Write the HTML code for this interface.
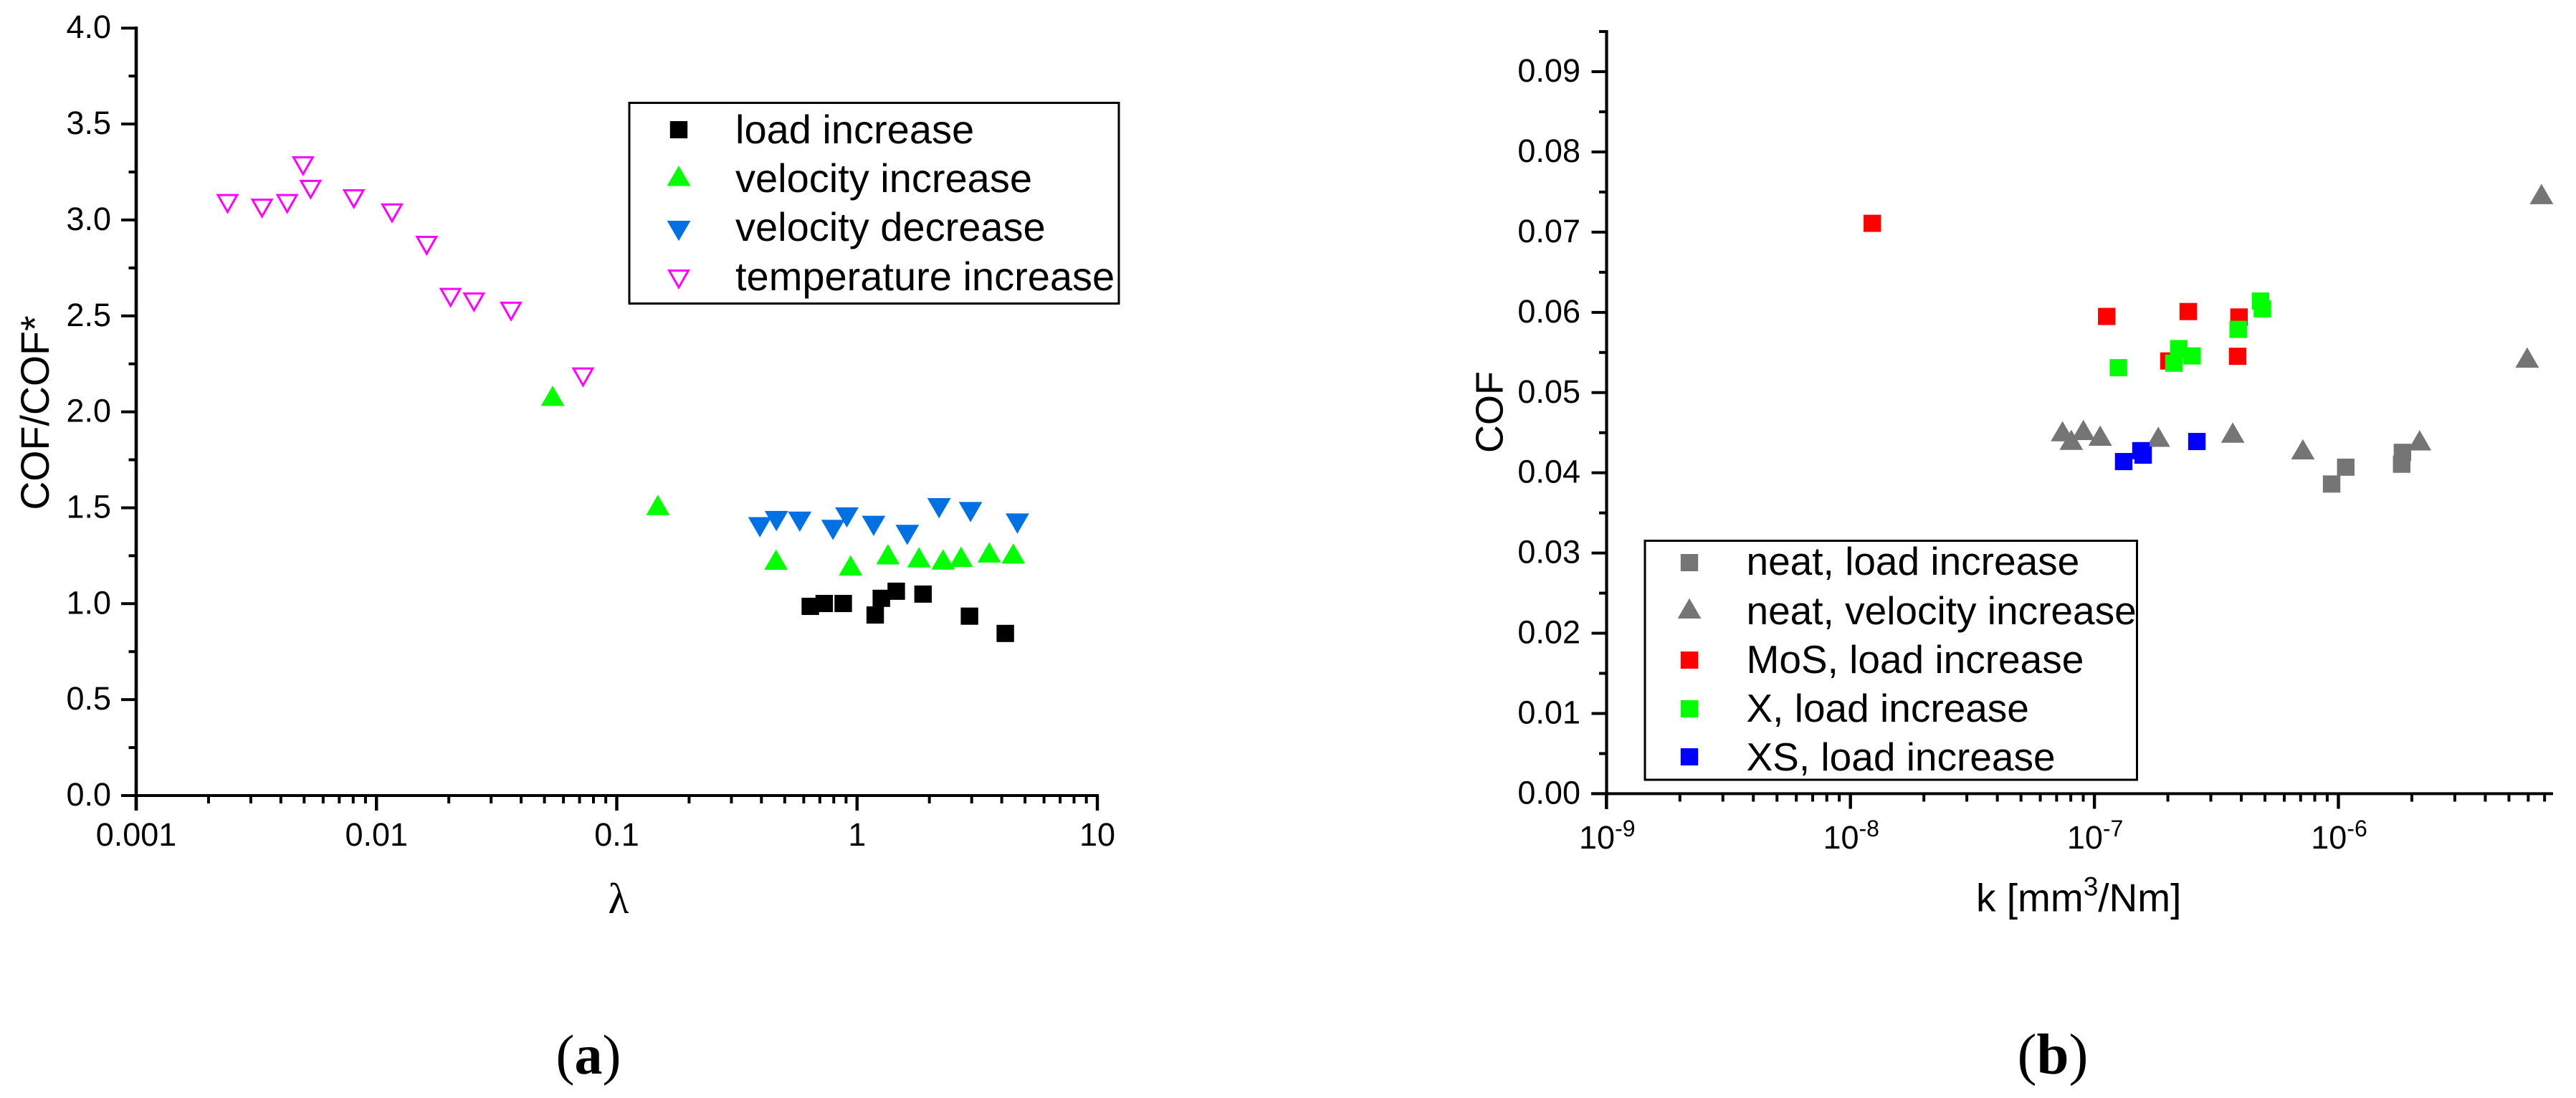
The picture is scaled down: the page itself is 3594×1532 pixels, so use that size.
<!DOCTYPE html>
<html lang="en">
<head>
<meta charset="utf-8">
<title>COF charts</title>
<style>
html,body{margin:0;padding:0;background:#fff;}
body{width:3594px;height:1532px;overflow:hidden;}
svg{display:block;}
text{font-family:"Liberation Sans",Arial,sans-serif;fill:#000;}
.serif{font-family:"Liberation Serif","Times New Roman",serif;}
</style>
</head>
<body>
<svg id="figure" xmlns="http://www.w3.org/2000/svg" width="3594" height="1532" viewBox="0 0 3594 1532">
<rect x="0" y="0" width="3594" height="1532" fill="#fff"/>
<g id="panelA"></g>
<g id="panelB"></g>
<text class="serif" x="821" y="1498" font-size="78" text-anchor="middle">(<tspan font-weight="bold">a</tspan>)</text>
<text class="serif" x="2864" y="1498" font-size="81" text-anchor="middle">(<tspan font-weight="bold">b</tspan>)</text>
</svg>
<script>
// ---------- Panel A data ----------
var aYTicks = ["0.0","0.5","1.0","1.5","2.0","2.5","3.0","3.5","4.0"];
var aXTicks = ["0.001","0.01","0.1","1","10"];
var aLoadX = [0.639,0.730,0.876,1.19,1.262,1.456,1.882,2.937,4.14];
var aLoadY = [0.986,1.001,1.001,0.941,1.028,1.065,1.050,0.935,0.845];
var aVelIncX = [0.0541,0.1483,0.460,0.94,1.344,1.81,2.28,2.71,3.55,4.47];
var aVelIncY = [2.083,1.514,1.229,1.199,1.257,1.241,1.230,1.244,1.267,1.261];
var aVelDecX = [0.394,0.4617,0.5775,0.794,0.907,1.172,1.618,2.194,2.967,4.647];
var aVelDecY = [1.399,1.431,1.428,1.385,1.450,1.406,1.359,1.498,1.478,1.418];
var aTempX = [0.0024,0.00334,0.00425,0.00495,0.00532,0.00805,0.01161,0.01618,0.02034,0.02546,0.03631,0.0724];
var aTempY = [3.083,3.059,3.083,3.28,3.157,3.108,3.034,2.865,2.594,2.570,2.522,2.179];

// ---------- Panel B data ----------
var bYTicks = ["0.00","0.01","0.02","0.03","0.04","0.05","0.06","0.07","0.08","0.09"];
var bXExponents = ["-9","-8","-7","-6"];
var bNeatLoadX = [9.38e-7,1.072e-6,1.83e-6,1.817e-6];
var bNeatLoadY = [0.0386,0.0407,0.04255,0.04107];
var bNeatVelX = [7.40e-8,8.04e-8,9.01e-8,1.056e-7,1.828e-7,3.69e-7,7.15e-7,2.152e-6,5.94e-6,6.80e-6];
var bNeatVelY = [0.04517,0.0441,0.04533,0.04462,0.04448,0.045,0.04292,0.04404,0.05436,0.07474];
var bMosX = [1.229e-8,1.123e-7,2.424e-7,3.915e-7,3.865e-7,2.02e-7];
var bMosY = [0.0711,0.05949,0.0601,0.05942,0.05452,0.05394];
var bXLoadX = [1.254e-7,2.118e-7,2.217e-7,2.513e-7,3.884e-7,4.794e-7,4.88e-7];
var bXLoadY = [0.0531,0.05366,0.05548,0.05457,0.05788,0.06141,0.06044];
var bXsX = [1.318e-7,1.551e-7,1.584e-7,2.63e-7];
var bXsY = [0.0414,0.04276,0.0422,0.0439];

var SVGNS = "http://www.w3.org/2000/svg";
function make(parent, tag, attrs, name) {
  var node = document.createElementNS(SVGNS, tag);
  for (var k in attrs) { node.setAttribute(k, attrs[k]); }
  
  
  parent.appendChild(node);
  return node;
}
function line(p, x1, y1, x2, y2, w, name) {
  return make(p, "line", {x1:x1, y1:y1, x2:x2, y2:y2, stroke:"#000", "stroke-width":w}, name);
}
function label(p, x, y, str, size, anchor, name) {
  var t = make(p, "text", {x:x, y:y, "font-size":size, "text-anchor":anchor}, name);
  t.textContent = str;
  return t;
}
function square(p, cx, cy, color, name) {
  return make(p, "rect", {x:cx-12.2, y:cy-12, width:24.4, height:24, fill:color}, name);
}
function triUp(p, cx, cy, color, name) {
  return make(p, "polygon", {points:(cx-16.4)+","+(cy+14)+" "+(cx+16.4)+","+(cy+14)+" "+cx+","+(cy-14.3), fill:color}, name);
}
function triDown(p, cx, cy, color, name) {
  return make(p, "polygon", {points:(cx-16.4)+","+(cy-14)+" "+(cx+16.4)+","+(cy-14)+" "+cx+","+(cy+14.3), fill:color}, name);
}
function triDownOpen(p, cx, cy, color, name) {
  return make(p, "polygon", {points:(cx-13.4)+","+(cy-12.5)+" "+(cx+13.4)+","+(cy-12.5)+" "+cx+","+(cy+11), fill:"#fff", "fill-opacity":"0", stroke:color, "stroke-width":3}, name);
}
function series(p, xs, ys, sx, sy, drawer, color, name) {
  for (var i = 0; i < xs.length; i++) {
    drawer(p, sx(xs[i]), sy(ys[i]), color, name);
  }
}

// ---------- Panel A ----------
(function () {
  var g = document.getElementById("panelA");
  function sx(v) { return 190 + 335.25 * (Math.log10(v) + 3); }
  function sy(v) { return 1110 - 267.7 * v; }
  // y axis
  line(g, 190, 37, 190, 1131, 4.6, "y-axis-line");
  for (var i = 0; i < aYTicks.length; i++) {
    var v = parseFloat(aYTicks[i]);
    line(g, 169, sy(v), 190, sy(v), 4, "y-tick");
    label(g, 155, sy(v) + 14, aYTicks[i], 45, "end", "y-tick-label");
    if (i < aYTicks.length - 1) {
      line(g, 179.5, sy(v + 0.25), 190, sy(v + 0.25), 4, "y-minor-tick");
    }
  }
  // x axis
  line(g, 188, 1110, 1533, 1110, 4, "x-axis-line");
  for (var d = 0; d < aXTicks.length; d++) {
    var base = parseFloat(aXTicks[d]);
    line(g, sx(base), 1110, sx(base), 1131, 4.4, "x-tick");
    label(g, sx(base), 1180, aXTicks[d], 45, "middle", "x-tick-label");
    if (d < aXTicks.length - 1) {
      for (var m = 2; m < 10; m++) {
        line(g, sx(base * m), 1110, sx(base * m), 1121, 4, "x-minor-tick");
      }
    }
  }
  // titles
  label(g, 0, 0, "COF/COF*", 55.5, "middle", "y-axis-title").setAttribute("transform", "translate(68 576) rotate(-90)");
  var lam = label(g, 863, 1274, "\u03bb", 60, "middle", "x-axis-title");
  lam.setAttribute("class", "serif");
  // series
  series(g, aLoadX, aLoadY, sx, sy, square, "#000000", "load-increase-point");
  series(g, aVelIncX, aVelIncY, sx, sy, triUp, "#00ff00", "velocity-increase-point");
  series(g, aVelDecX, aVelDecY, sx, sy, triDown, "#0070e2", "velocity-decrease-point");
  series(g, aTempX, aTempY, sx, sy, triDownOpen, "#ff00ff", "temperature-increase-point");
  // legend
  make(g, "rect", {x:878, y:143.5, width:683, height:280, fill:"#fff", "fill-opacity":"0", stroke:"#000", "stroke-width":3}, "legend-box");
  square(g, 947, 181, "#000000", "legend-marker-load");
  label(g, 1026, 200, "load increase", 56, "start", "legend-label-load");
  triUp(g, 947, 245.5, "#00ff00", "legend-marker-velocity-increase");
  label(g, 1026, 268, "velocity increase", 56, "start", "legend-label-velocity-increase");
  triDown(g, 947, 322, "#0070e2", "legend-marker-velocity-decrease");
  label(g, 1026, 336, "velocity decrease", 56, "start", "legend-label-velocity-decrease");
  triDownOpen(g, 947, 390, "#ff00ff", "legend-marker-temperature");
  label(g, 1026, 405, "temperature increase", 56, "start", "legend-label-temperature");
})();

// ---------- Panel B ----------
(function () {
  var g = document.getElementById("panelB");
  function sx(v) { return 2241.3 + 340.4 * (Math.log10(v) + 9); }
  function sy(v) { return 1107.4 - 11193 * v; }
  // y axis
  line(g, 2241.5, 42, 2241.5, 1129, 4.2, "y-axis-line");
  line(g, 2231, 44, 2241.5, 44, 4, "y-end-tick");
  for (var i = 0; i < bYTicks.length; i++) {
    var v = parseFloat(bYTicks[i]);
    line(g, 2220.5, sy(v), 2241.5, sy(v), 4, "y-tick");
    label(g, 2205, sy(v) + 14, bYTicks[i], 45, "end", "y-tick-label");
    if (i < bYTicks.length - 1) {
      line(g, 2231, sy(v + 0.005), 2241.5, sy(v + 0.005), 4, "y-minor-tick");
    }
  }
  // x axis
  line(g, 2220, 1107.4, 3562, 1107.4, 4, "x-axis-line");
  for (var d = 0; d < bXExponents.length; d++) {
    var e = parseFloat(bXExponents[d]);
    var base = Math.pow(10, e);
    line(g, sx(base), 1107.4, sx(base), 1128.5, 4.4, "x-tick");
    var t = make(g, "text", {x:sx(base) + 1, y:1184, "font-size":45, "text-anchor":"middle"}, "x-tick-label");
    t.appendChild(document.createTextNode("10"));
    var s = document.createElementNS(SVGNS, "tspan");
    s.setAttribute("font-size", "32");
    s.setAttribute("dy", "-17");
    s.textContent = bXExponents[d];
    t.appendChild(s);
    for (var m = 2; m < 10; m++) {
      if (sx(base * m) < 3560) {
        line(g, sx(base * m), 1107.4, sx(base * m), 1118.5, 4, "x-minor-tick");
      }
    }
  }
  // titles
  label(g, 0, 0, "COF", 54, "middle", "y-axis-title").setAttribute("transform", "translate(2096.5 575) rotate(-90)");
  var k = make(g, "text", {x:2757, y:1271.5, "font-size":55}, "x-axis-title");
  k.appendChild(document.createTextNode("k [mm"));
  var sup = document.createElementNS(SVGNS, "tspan");
  sup.setAttribute("font-size", "37");
  sup.setAttribute("dy", "-22");
  sup.textContent = "3";
  k.appendChild(sup);
  var rest = document.createElementNS(SVGNS, "tspan");
  rest.setAttribute("dy", "22");
  rest.textContent = "/Nm]";
  k.appendChild(rest);
  // series
  series(g, bNeatLoadX, bNeatLoadY, sx, sy, square, "#757575", "neat-load-point");
  series(g, bNeatVelX, bNeatVelY, sx, sy, triUp, "#757575", "neat-velocity-point");
  series(g, bMosX, bMosY, sx, sy, square, "#ff0000", "mos-load-point");
  series(g, bXLoadX, bXLoadY, sx, sy, square, "#00ff00", "x-load-point");
  series(g, bXsX, bXsY, sx, sy, square, "#0000ff", "xs-load-point");
  // legend
  make(g, "rect", {x:2295, y:754.5, width:686.5, height:333.5, fill:"#fff", stroke:"#000", "stroke-width":3}, "legend-box");
  square(g, 2357, 785, "#757575", "legend-marker-neat-load");
  label(g, 2436.5, 802, "neat, load increase", 55, "start", "legend-label-neat-load");
  triUp(g, 2357, 849, "#757575", "legend-marker-neat-velocity");
  label(g, 2436.5, 871, "neat, velocity increase", 55, "start", "legend-label-neat-velocity");
  square(g, 2357, 921, "#ff0000", "legend-marker-mos");
  label(g, 2436.5, 939, "MoS, load increase", 55, "start", "legend-label-mos");
  square(g, 2357, 989, "#00ff00", "legend-marker-x");
  label(g, 2436.5, 1007, "X, load increase", 55, "start", "legend-label-x");
  square(g, 2357, 1056, "#0000ff", "legend-marker-xs");
  label(g, 2436.5, 1075, "XS, load increase", 55, "start", "legend-label-xs");
})();
</script>
</body>
</html>
